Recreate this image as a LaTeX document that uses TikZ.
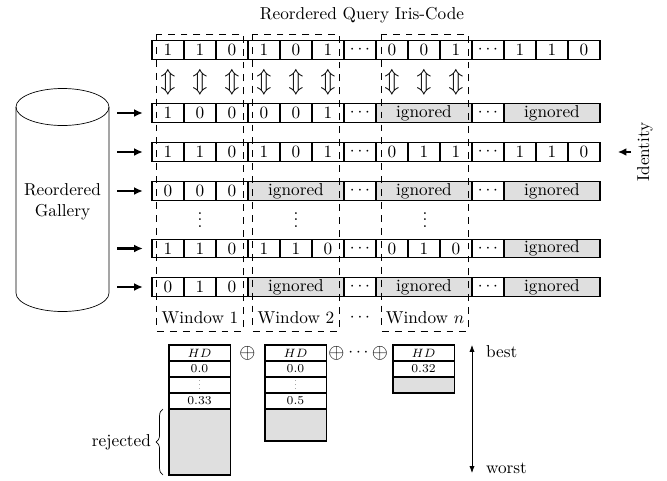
\documentclass[tikz,border=0pt]{standalone}
\usetikzlibrary{arrows.meta,decorations.pathreplacing}

\newcommand{\smallvdots}{\raisebox{0pt}[5.4pt][0pt]{\scalebox{0.6}{\vdots}}}
\newcommand{\rowvdots}{\raisebox{0pt}[9.1pt][0pt]{$\vdots$}}

\tikzset{
    bit/.style={draw, line width=0.6pt, minimum width=18.56pt, minimum height=10.73pt, inner sep=0pt},
    ign/.style={bit, fill=gray!25, minimum width=55.68pt},
    winbox/.style={dash pattern=on 4pt off 3.5pt},
    feed/.style={-{Latex[length=5pt,width=4.5pt]}, line width=1.4pt},
    hd/.style={draw, line width=0.6pt, minimum width=35.4pt, minimum height=9.28pt, inner sep=0pt, font=\scriptsize},
}

\begin{document}
\begin{tikzpicture}[x=0.58pt,y=-0.58pt]
    \useasboundingbox (0,0) rectangle (667,481);

    % Draw the title
    \node (title) at (362,15) {Reordered Query Iris-Code};

    % Draw the query code
    \foreach \t [count=\i] in {1,1,0,1,0,1,\cdots,0,0,1,\cdots,1,1,0}
        \node[bit] (q-\i) at ({136+32*\i},50) {$\t$};

    % Draw the comparison arrows
    \foreach \i in {1,2,3,4,5,6,8,9,10}
        \node (cmp-\i) at ({136+32*\i},82) {\Large$\Updownarrow$};

    % Draw the gallery codes
    \foreach \i/\t in {1/1,2/0,3/0,4/0,5/0,6/1,7/\cdots,11/\cdots}
        \node[bit] (r1-\i) at ({136+32*\i},113) {$\t$};
    \foreach \i in {9,13}
        \node[ign] (r1-\i) at ({136+32*\i},113) {ignored};

    \foreach \t [count=\i] in {1,1,0,1,0,1,\cdots,0,1,1,\cdots,1,1,0}
        \node[bit] (r2-\i) at ({136+32*\i},152) {$\t$};

    \foreach \i/\t in {1/0,2/0,3/0,7/\cdots,11/\cdots}
        \node[bit] (r3-\i) at ({136+32*\i},191) {$\t$};
    \foreach \i in {5,9,13}
        \node[ign] (r3-\i) at ({136+32*\i},191) {ignored};

    \foreach \x [count=\i] in {200,296,425}
        \node[inner sep=1pt] (vd-\i) at (\x,220) {\rowvdots};

    \foreach \i/\t in {1/1,2/1,3/0,4/1,5/1,6/0,7/\cdots,8/0,9/1,10/0,11/\cdots}
        \node[bit] (r4-\i) at ({136+32*\i},248.5) {$\t$};
    \node[ign] (r4-13) at (552,248.5) {ignored};

    \foreach \i/\t in {1/0,2/1,3/0,7/\cdots,11/\cdots}
        \node[bit] (r5-\i) at ({136+32*\i},287) {$\t$};
    \foreach \i in {5,9,13}
        \node[ign] (r5-\i) at ({136+32*\i},287) {ignored};

    % Draw the gallery
    \draw (16,107) -- (16,293) arc[start angle=180, end angle=0, x radius=46.5, y radius=18.5] -- (109,107);
    \draw (62.5,107) ellipse[x radius=46.5, y radius=18.5];
    \node[align=center] (gallery) at (62.5,202) {Reordered\\Gallery};

    % Draw the arrows into the gallery codes
    \foreach \r/\y in {r1/113,r2/152,r3/191,r4/248.5,r5/287} {
        \coordinate (\r-in) at (117,\y);
        \draw[feed, shorten >=5pt] (\r-in) -- (\r-1.west);
    }

    % Draw the identity label
    \node[rotate=90] (identity) at (645,152) {Identity};
    \draw[feed, shorten >=10pt] (identity) -- (r2-14.east);

    % Draw the windows
    \draw[winbox] (156.5,34) rectangle (243.5,331);
    \draw[winbox] (252.5,34) rectangle (339.5,331);
    \draw[winbox] (381.5,34) rectangle (468.5,331);
    \node (win-1) at (200,318) {Window 1};
    \node (win-2) at (296,318) {Window 2};
    \node (win-dots) at (360,318) {$\cdots$};
    \node (win-n) at (425,318) {Window $n$};

    % Draw the score lists
    \node[hd] (hd1-0) at (199.5,353) {$HD$};
    \node[hd] (hd1-1) at (199.5,369) {0.0};
    \node[hd] (hd1-2) at (199.5,385) {\smallvdots};
    \node[hd] (hd1-3) at (199.5,401) {0.33};
    \node[hd, fill=gray!25, minimum height=38.28pt] (hd1-4) at (199.5,442) {};

    \node[hd] (hd2-0) at (295.5,353) {$HD$};
    \node[hd] (hd2-1) at (295.5,369) {0.0};
    \node[hd] (hd2-2) at (295.5,385) {\smallvdots};
    \node[hd] (hd2-3) at (295.5,401) {0.5};
    \node[hd, fill=gray!25, minimum height=18.56pt] (hd2-4) at (295.5,425) {};

    \node[hd] (hd3-0) at (423.5,353) {$HD$};
    \node[hd] (hd3-1) at (423.5,369) {0.32};
    \node[hd, fill=gray!25] (hd3-2) at (423.5,385) {};

    % Draw the merge symbols
    \node (op-1) at (247.5,353) {\large$\oplus$};
    \node (op-2) at (336.5,353) {\large$\oplus$};
    \node (op-dots) at (358.5,353) {$\cdots$};
    \node (op-3) at (380,353) {\large$\oplus$};

    % Draw the rejected brace
    \draw[decorate, decoration={brace, amplitude=4pt}] (163,475) -- (163,409);
    \node[anchor=east] (rejected) at (157,442) {rejected};

    % Draw the best / worst arrow
    \coordinate (best-end) at (472,345);
    \coordinate (worst-end) at (472,473);
    \draw[{Latex[length=4pt,width=3pt]}-{Latex[length=4pt,width=3pt]}] (best-end) -- (worst-end);
    \node[anchor=west] (best) at (480,352) {best};
    \node[anchor=west] (worst) at (480,468) {worst};
\end{tikzpicture}
\end{document}
